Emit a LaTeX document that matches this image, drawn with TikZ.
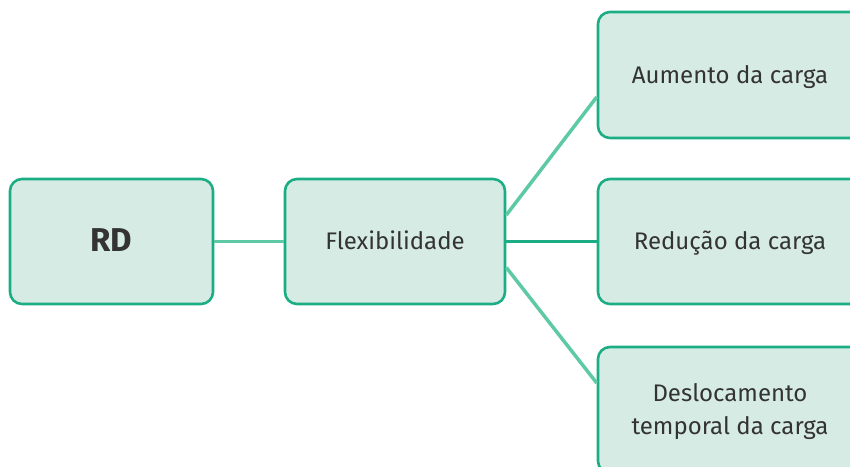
\documentclass[tikz,border=0pt]{standalone}
\usepackage{fontspec}
\setmainfont{Fira Sans}
\definecolor{boxfill}{HTML}{D7EBE5}
\definecolor{boxline}{HTML}{1BAE84}
\definecolor{linklight}{HTML}{5DC9A5}
\definecolor{txt}{HTML}{333333}
\begin{document}
\begin{tikzpicture}[x=1pt,y=-1pt,
  box/.style={draw=boxline, fill=boxfill, line width=2.6pt, rounded corners=12pt,
    text=txt, align=center, inner sep=0pt, text depth=2pt},
  link/.style={draw=linklight, line width=3.5pt},
  mainlink/.style={draw=boxline, line width=3.5pt}]
\useasboundingbox (0,0) rectangle (850,466);
% nodes
\node[box, minimum width=203pt, minimum height=125pt, font=\fontsize{33}{38}\selectfont\bfseries] (rd) at (111.5,241.5) {RD};
\node[box, minimum width=220pt, minimum height=125pt, font=\fontsize{24}{30}\selectfont] (flex) at (395,241.5) {Flexibilidade};
\node[box, minimum width=264pt, minimum height=126pt, font=\fontsize{24}{30}\selectfont] (up) at (730,75) {Aumento da carga};
\node[box, minimum width=264pt, minimum height=125pt, font=\fontsize{24}{30}\selectfont] (red) at (730,241.5) {Redução da carga};
\node[box, minimum width=264pt, minimum height=126pt, font=\fontsize{24}{33}\selectfont] (shift) at (730,410) {Deslocamento\\temporal da carga};
% connectors
\draw[link] (rd.east) -- (flex.west);
\draw[mainlink] (flex.east) -- (red.west);
\draw[link] ([yshift=26.5pt]flex.east) -- ([yshift=-22pt]up.west);
\draw[link] ([yshift=-26pt]flex.east) -- ([yshift=27pt]shift.west);
\end{tikzpicture}
\end{document}
